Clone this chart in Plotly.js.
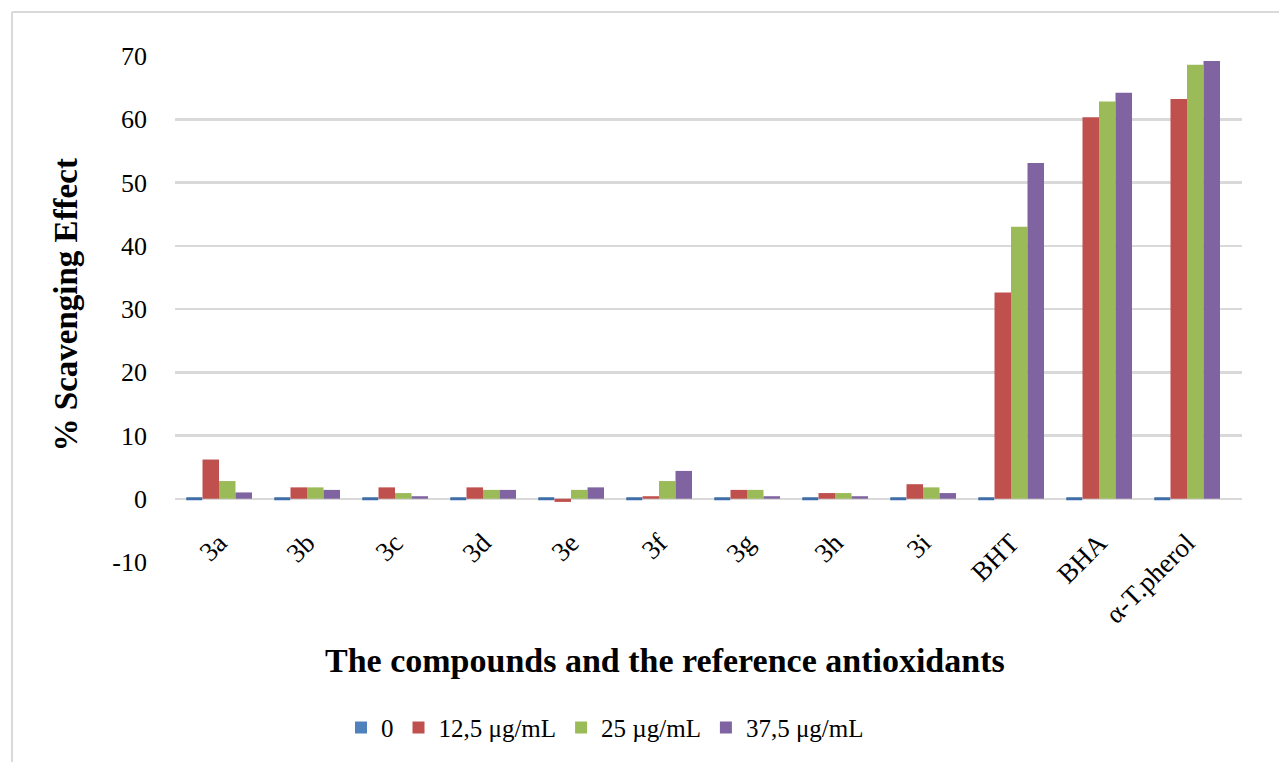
<!DOCTYPE html>
<html>
<head>
<meta charset="utf-8">
<script src="https://cdn.plot.ly/plotly-3.0.1.min.js"></script>
<style>
  html, body { margin: 0; padding: 0; background: #ffffff; }
  #chart { width: 1279px; height: 762px; }
</style>
</head>
<body>
<div id="chart"></div>
<script>
// DPPH scavenging effect of compounds 3a–3i and reference antioxidants
const categories = ['3a', '3b', '3c', '3d', '3e', '3f', '3g', '3h', '3i', 'BHT', 'BHA', 'α-T.pherol'];
const seriesNames = ['0', '12,5 μg/mL', '25 µg/mL', '37,5 μg/mL'];
const dose0   = [0, 0, 0, 0, 0, 0, 0, 0, 0, 0, 0, 0];
const dose125 = [6.2, 1.8, 1.8, 1.8, -0.5, 0.4, 1.4, 0.9, 2.3, 32.6, 60.3, 63.2];
const dose25  = [2.8, 1.8, 0.9, 1.4, 1.4, 2.8, 1.4, 0.9, 1.8, 43.0, 62.8, 68.6];
const dose375 = [1.0, 1.4, 0.4, 1.4, 1.8, 4.4, 0.4, 0.4, 0.9, 53.1, 64.2, 69.2];
const yTicks = [-10, 0, 10, 20, 30, 40, 50, 60, 70];

const colors = ['#4f81bd', '#c0504d', '#9bbb59', '#8064a2'];
const values = [dose0, dose125, dose25, dose375];
const serif = 'Liberation Serif, Times New Roman, serif';

const xIdx = categories.map((_, i) => i);

const traces = values.map((v, k) => {
  const t = {
    type: 'bar',
    name: seriesNames[k],
    x: xIdx,
    y: v,
    marker: { color: colors[k], line: { width: 0 } },
    hoverinfo: 'x+y'
  };
  if (k === 0) {
    // a zero-height column is drawn as its flat top
    t.error_y = { type: 'constant', value: 0, width: 8, thickness: 3, color: '#3e6ea8' };
  }
  return t;
});

const layout = {
  width: 1279,
  height: 762,
  paper_bgcolor: '#ffffff',
  plot_bgcolor: '#ffffff',
  margin: { l: 175, r: 37, t: 56, b: 199 },
  barmode: 'group',
  bargap: 0.25,
  bargroupgap: 0,
  showlegend: true,
  font: { family: serif, color: '#000000', size: 25 },
  xaxis: {
    type: 'linear',
    range: [-0.5, 11.625],
    tickmode: 'array',
    tickvals: xIdx,
    ticktext: categories,
    tickangle: -45,
    ticks: '',
    ticklabelstandoff: 22,
    showgrid: false,
    zeroline: false,
    showline: false,
    anchor: 'free',
    position: 0.125,
    tickfont: { family: serif, size: 27, color: '#000000' },
    fixedrange: true
  },
  yaxis: {
    range: [-10, 70],
    tickmode: 'array',
    tickvals: yTicks,
    ticktext: yTicks.map(String),
    ticks: '',
    ticklabelstandoff: 27,
    showgrid: true,
    gridcolor: '#d9d9d9',
    gridwidth: 2.5,
    zeroline: true,
    zerolinecolor: '#d9d9d9',
    zerolinewidth: 2.5,
    showline: false,
    tickfont: { family: serif, size: 26, color: '#000000' },
    fixedrange: true
  },
  legend: {
    orientation: 'h',
    x: 0.403,
    xanchor: 'center',
    y: -0.325,
    yanchor: 'middle',
    font: { family: serif, size: 25, color: '#000000' },
    itemwidth: 30,
    tracegroupgap: 0,
    bgcolor: 'rgba(0,0,0,0)'
  },
  annotations: [
    {
      text: '<b>% Scavenging Effect</b>',
      xref: 'paper', yref: 'paper',
      x: -0.1022, y: 0.509,
      xanchor: 'center', yanchor: 'middle',
      textangle: -90,
      showarrow: false,
      font: { family: serif, size: 33, color: '#000000' }
    },
    {
      text: '<b>The compounds and the reference antioxidants</b>',
      xref: 'paper', yref: 'paper',
      x: 0.459, y: -0.1953,
      xanchor: 'center', yanchor: 'middle',
      showarrow: false,
      font: { family: serif, size: 34, color: '#000000' }
    }
  ],
  shapes: [
    { type: 'line', xref: 'paper', yref: 'paper', x0: -0.1528, x1: 1.04, y0: 1.0868, y1: 1.0868,
      line: { color: '#d9d9d9', width: 2 } },
    { type: 'line', xref: 'paper', yref: 'paper', x0: -0.1528, x1: -0.1528, y0: 1.0868, y1: -0.4,
      line: { color: '#d9d9d9', width: 2 } }
  ]
};

Plotly.newPlot('chart', traces, layout, { displayModeBar: false, staticPlot: true });
</script>
</body>
</html>
